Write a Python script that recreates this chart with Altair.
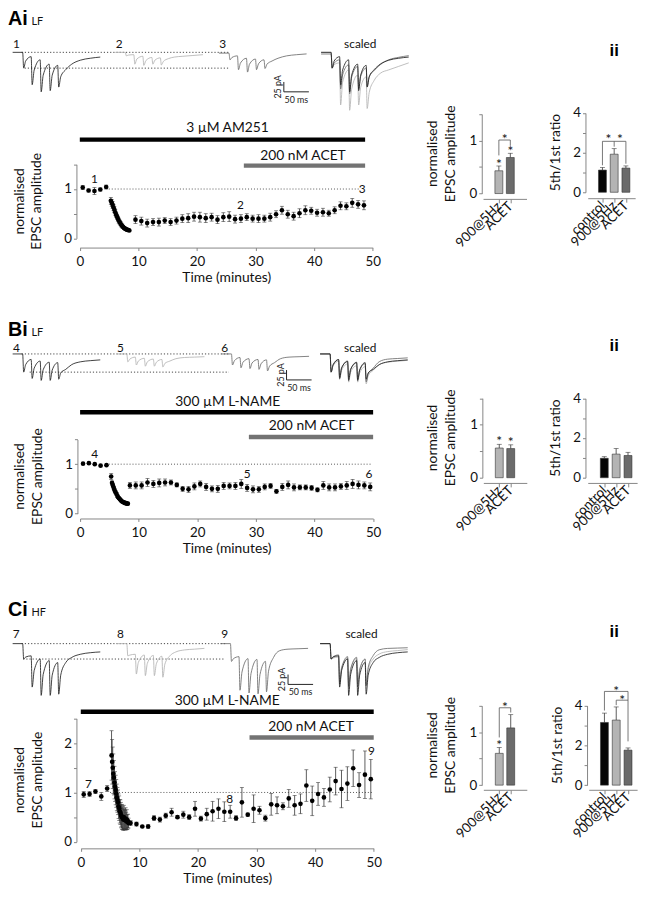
import altair as alt
import pandas as pd

FONT = "Lato"
HEAD_FONT = "Liberation Sans"
W, H = 647, 892

# ---------------- time-course data (minutes, normalised EPSC, s.e.m.) ----------------
A_t = [0.5, 1.5, 2.5, 3.5, 4.5,
       5.3, 5.45, 5.6, 5.75, 5.9, 6.05, 6.2, 6.35, 6.5, 6.65, 6.8, 6.95, 7.1, 7.25,
       7.4, 7.55, 7.7, 7.85, 8.0, 8.15, 8.3, 8.45,
       9.5, 10.5, 11.5, 12.5, 13.5, 14.5, 15.5, 16.5, 17.5, 18.5, 19.5, 20.5, 21.5,
       22.5, 23.5, 24.5, 25.5, 26.5, 27.5, 28.5, 29.5, 30.5, 31.5, 32.5, 33.5, 34.5,
       35.5, 36.5, 37.5, 38.5, 39.5, 40.5, 41.5, 42.5, 43.5, 44.5, 45.5, 46.5, 47.5, 48.5]
A_v = [1.03, 0.97, 0.96, 0.99, 1.04,
       0.76, 0.72, 0.68, 0.63, 0.58, 0.53, 0.48, 0.44, 0.40, 0.36, 0.33, 0.30, 0.27, 0.25,
       0.23, 0.21, 0.20, 0.19, 0.18, 0.17, 0.17, 0.16,
       0.38, 0.35, 0.31, 0.33, 0.33, 0.36, 0.33, 0.36, 0.40, 0.41, 0.44, 0.43, 0.41,
       0.43, 0.38, 0.43, 0.44, 0.39, 0.40, 0.43, 0.40, 0.40, 0.40, 0.43, 0.49, 0.57,
       0.49, 0.45, 0.51, 0.57, 0.56, 0.52, 0.53, 0.51, 0.57, 0.66, 0.65, 0.72, 0.69, 0.67]
A_e = [0.04, 0.03, 0.07, 0.03, 0.04,
       0.07, 0.07, 0.07, 0.06, 0.06, 0.06, 0.05, 0.05, 0.05, 0.05, 0.04, 0.04, 0.04, 0.04,
       0.03, 0.03, 0.03, 0.03, 0.03, 0.03, 0.02, 0.02,
       0.08, 0.08, 0.08, 0.07, 0.08, 0.06, 0.07, 0.07, 0.08, 0.09, 0.09, 0.10, 0.09,
       0.08, 0.08, 0.09, 0.10, 0.08, 0.08, 0.07, 0.07, 0.08, 0.07, 0.08, 0.07, 0.08,
       0.08, 0.08, 0.09, 0.09, 0.07, 0.07, 0.08, 0.06, 0.07, 0.08, 0.07, 0.09, 0.08, 0.09]

B_t = [0.5, 1.5, 2.5, 3.5, 4.5,
       5.3, 5.45, 5.6, 5.75, 5.9, 6.05, 6.2, 6.35, 6.5, 6.65, 6.8, 6.95, 7.1, 7.25,
       7.4, 7.55, 7.7, 7.85, 8.0, 8.15,
       8.5, 9.5, 10.5, 11.5, 12.5, 13.5, 14.5, 15.5, 16.5, 17.5, 18.5, 19.5, 20.5, 21.5,
       22.5, 23.5, 24.5, 25.5, 26.5, 27.5, 28.5, 29.5, 30.5, 31.5, 32.5, 33.5, 34.5,
       35.5, 36.5, 37.5, 38.5, 39.5, 40.5, 41.5, 42.5, 43.5, 44.5, 45.5, 46.5, 47.5, 48.5, 49.5]
B_v = [1.01, 1.02, 1.00, 0.97, 0.98,
       0.75, 0.62, 0.57, 0.52, 0.47, 0.43, 0.40, 0.36, 0.33, 0.31, 0.29, 0.27, 0.25, 0.24,
       0.23, 0.22, 0.21, 0.21, 0.20, 0.20,
       0.57, 0.57, 0.57, 0.63, 0.60, 0.62, 0.63, 0.63, 0.58, 0.50,
       0.49, 0.55, 0.60, 0.54, 0.50, 0.50, 0.56, 0.56, 0.56, 0.60,
       0.52, 0.49, 0.49, 0.54, 0.56, 0.45, 0.54, 0.58, 0.53, 0.53,
       0.53, 0.52, 0.48, 0.57, 0.53, 0.53, 0.55, 0.57, 0.60, 0.58,
       0.57, 0.54]
B_e = [0.01, 0.01, 0.01, 0.01, 0.01,
       0.06, 0.04, 0.04, 0.03, 0.03, 0.03, 0.03, 0.03, 0.02, 0.02, 0.02, 0.02, 0.02, 0.02,
       0.02, 0.02, 0.02, 0.02, 0.02, 0.02,
       0.06, 0.07, 0.07, 0.08, 0.07, 0.08, 0.07, 0.05, 0.04, 0.05,
       0.06, 0.07, 0.06, 0.07, 0.06, 0.07, 0.07, 0.06, 0.07, 0.09,
       0.07, 0.07, 0.06, 0.06, 0.05, 0.04, 0.07, 0.08, 0.07, 0.05,
       0.05, 0.05, 0.04, 0.08, 0.07, 0.07, 0.06, 0.08, 0.09, 0.08,
       0.07, 0.08]

C_t = [0.5, 1.5, 2.5, 3.5, 4.5,
       5.25, 5.35, 5.45, 5.55, 5.65, 5.75, 5.85, 5.95, 6.05, 6.15,
       6.25, 6.35, 6.45, 6.55, 6.65, 6.75, 6.85, 6.95, 7.05, 7.15,
       7.25, 7.35, 7.45, 7.55, 7.65, 7.75, 7.85, 7.95, 8.05, 8.15,
       8.5, 9.5, 10.5, 11.5, 12.5, 13.5, 14.5, 15.5, 16.5, 17.5, 18.5, 19.5, 20.5, 21.5,
       22.5, 23.5, 24.5, 25.5, 26.5, 27.5, 28.5, 29.5, 30.5, 31.5, 32.5, 33.5, 34.5,
       35.5, 36.5, 37.5, 38.5, 39.5, 40.5, 41.5, 42.5, 43.5, 44.5, 45.5, 46.5, 47.5, 48.5, 49.5]
C_v = [0.96, 0.97, 1.02, 0.92, 1.08,
       1.75, 1.62, 1.50, 1.38, 1.30, 1.20, 1.12, 1.05, 0.98, 0.90,
       0.85, 0.80, 0.72, 0.68, 0.62, 0.60, 0.55, 0.52, 0.50, 0.48,
       0.45, 0.50, 0.46, 0.44, 0.47, 0.42, 0.45, 0.40, 0.42, 0.38,
       0.38, 0.36, 0.31, 0.31, 0.48, 0.45, 0.53, 0.60, 0.50, 0.55,
       0.50, 0.67, 0.47, 0.56, 0.62, 0.67, 0.61, 0.61, 0.48, 0.80,
       0.55, 0.67, 0.64, 0.48, 0.76, 0.74, 0.72, 0.88, 0.74, 0.77,
       1.14, 0.83, 0.97, 0.90, 1.06, 1.23, 1.07, 1.18, 1.49, 1.15,
       1.36, 1.27]
C_e = [0.06, 0.05, 0.04, 0.08, 0.06,
       0.50, 0.45, 0.42, 0.40, 0.35, 0.33, 0.30, 0.30, 0.28, 0.27,
       0.25, 0.25, 0.25, 0.25, 0.24, 0.25, 0.25, 0.24, 0.25, 0.23,
       0.22, 0.24, 0.20, 0.20, 0.22, 0.18, 0.20, 0.15, 0.14, 0.10,
       0.05, 0.04, 0.02, 0.04, 0.05, 0.05, 0.05, 0.08, 0.03, 0.07,
       0.05, 0.15, 0.05, 0.12, 0.20, 0.20, 0.20, 0.13, 0.05, 0.30,
       0.03, 0.28, 0.08, 0.06, 0.22, 0.17, 0.07, 0.18, 0.20, 0.20,
       0.32, 0.30, 0.23, 0.18, 0.25, 0.28, 0.38, 0.34, 0.37, 0.25,
       0.48, 0.40]

# numbered sample points on the time courses (label, minute, value)
A_nums = [("1", 2.5, 1.21), ("2", 27.4, 0.68), ("3", 48.2, 1.0)]
B_nums = [("4", 2.5, 1.2), ("5", 28.5, 0.79), ("6", 49.3, 0.8)]
C_nums = [("7", 1.3, 1.17), ("8", 25.4, 0.87), ("9", 49.6, 1.83)]

# drug application periods (label, start min, end min)
A_drugs = [("3 µM AM251", 0, 48.7), ("200 nM ACET", 28, 48.7)]
B_drugs = [("300 µM L-NAME", 0, 50), ("200 nM ACET", 28.8, 50)]
C_drugs = [("300 µM L-NAME", 0, 50), ("200 nM ACET", 28.8, 50)]
A_dot = (4.95, 47.6)
B_dot = (4.9, 49.7)
C_dot = (5.0, 49.7)

# ---------------- bar data ----------------
AMP_CATS = ["900@5Hz", "ACET"]
RAT_CATS = ["control", "900@5Hz", "ACET"]
A_amp, A_amp_e = [0.43, 0.68], [0.09, 0.08]
A_rat, A_rat_e = [1.12, 1.92, 1.22], [0.13, 0.28, 0.11]
B_amp, B_amp_e = [0.56, 0.55], [0.07, 0.07]
B_rat, B_rat_e = [0.98, 1.19, 1.12], [0.08, 0.28, 0.16]
C_amp, C_amp_e = [0.60, 1.08], [0.11, 0.25]
C_rat, C_rat_e = [3.15, 3.27, 1.76], [0.47, 0.66, 0.11]

# significance marks: brackets (from, to, level), legs (at, top, bottom), stars (at, level)
A_amp_sig = ([(0, 1, 1.01)], [(0, 1.01, 0.72), (1, 1.01, 0.9)], [(0, 0.6), (1, 0.83), (0.5, 1.06)])
A_rat_sig = ([(0, 2, 2.57)], [(0, 2.57, 1.36), (1, 2.57, 2.3), (2, 2.57, 1.44)], [(0.5, 2.77), (1.5, 2.77)])
B_amp_sig = ([], [], [(0, 0.72), (1, 0.71)])
B_rat_sig = ([], [], [])
C_amp_sig = ([(0, 1, 1.46)], [(0, 1.46, 0.9), (1, 1.46, 1.37)], [(0, 0.8), (0.5, 1.52)])
C_rat_sig = ([(0, 2, 4.71), (1, 2, 4.27)], [(0, 4.71, 3.75), (1, 4.27, 4.02), (2, 4.71, 2.2)],
             [(1, 4.85), (1.5, 4.4)])

# ---------------- example EPSC traces (ms, pA) ----------------
TRACE_MS = [0, 20, 22, 26, 37, 39, 43, 55, 57, 61, 73, 75, 79, 90, 92, 96, 106, 118, 135, 155, 175]
A_traces = [
    [0, 0, -40, -22, -11, -82, -45, -19, -100, -58, -30, -97, -58, -33, -88, -62, -44, -30, -20, -15, -12],
    [0, 0, -9, -7, -6, -30, -17, -10, -33, -21, -13, -30, -20, -14, -32, -23, -16, -12, -10, -8, -6],
    [-2, -2, -19, -13, -9, -44, -27, -15, -50, -30, -17, -44, -29, -19, -41, -30, -22, -15, -9, -6, -4],
]
B_traces = [
    [0, 0, -46, -27, -14, -62, -36, -18, -67, -40, -21, -67, -41, -22, -64, -48, -39, -27, -20, -17, -15],
    [0, 0, -20, -13, -8, -28, -18, -11, -31, -20, -13, -31, -21, -14, -33, -24, -18, -12, -9, -8, -7],
    [0, 0, -28, -17, -9, -35, -21, -12, -37, -23, -14, -39, -25, -15, -43, -31, -22, -12, -8, -7, -6],
]
C_traces = [
    [0, 0, -39, -34, -31, -110, -68, -39, -131, -78, -43, -131, -80, -48, -128, -80, -48, -35, -27, -23, -21],
    [0, 0, -31, -29, -27, -77, -48, -29, -81, -50, -30, -81, -51, -32, -85, -52, -31, -21, -16, -14, -12],
    [0, 0, -45, -38, -33, -118, -72, -38, -125, -76, -40, -127, -78, -45, -122, -70, -35, -18, -14, -13, -12],
]
TRACE_COLORS = ["#1e1e1e", "#b2b2b2", "#6a6a6a"]
BAR_COLORS = ["#050505", "#b4b4b4", "#6b6b6b"]

# ---------------- layout (pixel geometry of each panel) ----------------
STRIP = {"A": dict(x0=4.7, x1=410.3, yb=103.3, yt=35.3, off=[0, 205, 412, 616],
                   dots=[(18, 432, 0), (24, 432, -40)], sb=(541.6, -75)),
         "B": dict(x0=4.7, x1=410.3, yb=408.7, yt=340.7, off=[0, 208, 417, 614],
                   dots=[(18, 432, 0), (34, 432, -46)], sb=(547, -40.75)),
         "C": dict(x0=4.7, x1=410.3, yb=702, yt=634, off=[0, 208, 415, 614],
                   dots=[(18, 428, 0), (21, 422, -39)], sb=(550, -78.25))}
TC = {"A": dict(x0=72.7, x1=369.3, y0=227.7, y1=152.7, yo=-69.3, xo=237 - H,
                bars=[127.7, 154], labs=[(25.2, 120), (38.1, 148)], tx=(12, 29.3)),
      "B": dict(x0=73, x1=369.7, y0=506.3, y1=431.3, yo=-70.3, xo=511.3 - H,
                bars=[403.7, 428.7], labs=[(25.2, 397), (39.5, 422)], tx=(12.7, 30)),
      "C": dict(x0=73.7, x1=370.3, y0=838.7, y1=713.7, yo=-69.3, xo=845.3 - H,
                bars=[707, 733], labs=[(25.0, 700), (39.3, 726)], tx=(12.7, 30))}
AMPG = {"A": dict(x0=481, x1=525, d0=-0.95, d1=1.983, y0=182.3, y1=101.8, yo=-479.7, xo=187.7 - H,
                  tx=(430, 448.7)),
        "B": dict(x0=481.3, x1=525.3, d0=-0.96, d1=1.973, y0=470, y1=389.5, yo=-480.3, xo=475.3 - H,
                  tx=(430.3, 448.5)),
        "C": dict(x0=481.3, x1=525.3, d0=-0.96, d1=1.973, y0=781.3, y1=700.8, yo=-479.7, xo=786 - H,
                  tx=(430.3, 448.5))}
RATG = {"A": dict(x0=587, x1=635, d0=-0.833, d1=2.367, y0=181, y1=100.7, yo=-584.7, xo=187 - H, tx=(555.3,)),
        "B": dict(x0=587, x1=637, d0=-0.98, d1=2.353, y0=470, y1=389.7, yo=-584.7, xo=475.3 - H, tx=(555.3,)),
        "C": dict(x0=588, x1=637, d0=-0.913, d1=2.353, y0=781.3, y1=700.7, yo=-586.3, xo=786 - H,
                  tx=(556.5,))}

AX = dict(grid=False, labelFlush=False, labelOverlap=False, domainColor="#858585", tickColor="#858585",
          labelColor="#111", titleColor="#111", labelFont=FONT, titleFont=FONT,
          titleFontSize=14, titleFontWeight="normal")
INT_EXPR = "datum.value % 1 === 0 ? '' + datum.value : ''"
EVEN_EXPR = "datum.value % 2 === 0 ? '' + datum.value : ''"


def ytitle(lines, xs, yc):
    """Rotated multi-line y-axis title, one text mark per line."""
    out = []
    for line, x in zip(lines, xs):
        out.append(alt.Chart(pd.DataFrame({"txt": [line]})).mark_text(
            font=FONT, fontSize=14, angle=270, align="center", baseline="middle", color="#111").encode(
            x=alt.value(x), y=alt.value(yc), text="txt:N"))
    return out


def strip_panel(traces, g):
    xs = alt.Scale(domain=[0, 800], range=[g["x0"], g["x1"]], nice=False, zero=False)
    ys = alt.Scale(domain=[-160, 10], range=[g["yb"], g["yt"]], nice=False, zero=False)

    def X(f):
        return alt.X(f, scale=xs, axis=None)

    def Y(f):
        return alt.Y(f, scale=ys, axis=None)

    rows = []
    for k, tr in enumerate(traces):
        f = traces[0][2] / tr[2]
        for t, v in zip(TRACE_MS, tr):
            rows.append(dict(id="r%d" % k, grp=k, x=g["off"][k] + t, y=v))
            rows.append(dict(id="s%d" % k, grp=k, x=g["off"][3] + t, y=v * f))
    df = pd.DataFrame(rows)
    layers = []
    dd = pd.DataFrame(g["dots"], columns=["a", "b", "y"])
    layers.append(alt.Chart(dd).mark_rule(color="#444", strokeWidth=1, strokeDash=[1.2, 2]).encode(
        x=X("a:Q"), x2="b:Q", y=Y("y:Q")))
    for k in [1, 2, 0]:
        layers.append(alt.Chart(df[df.grp == k]).mark_line(strokeWidth=0.85, color=TRACE_COLORS[k],
                                                           interpolate="monotone").encode(
            x=X("x:Q"), y=Y("y:Q"), detail="id:N"))
    sx, sy = g["sb"]
    sv = pd.DataFrame({"x": [sx], "y1": [sy], "y2": [sy - 25], "x2": [sx + 50], "xm": [sx + 25],
                       "ym": [sy - 12.5]})
    layers.append(alt.Chart(sv).mark_rule(color="#222", strokeWidth=1).encode(
        x=X("x:Q"), y=Y("y1:Q"), y2="y2:Q"))
    layers.append(alt.Chart(sv).mark_rule(color="#222", strokeWidth=1).encode(
        x=X("x:Q"), x2="x2:Q", y=Y("y2:Q")))
    layers.append(alt.Chart(sv).mark_text(font=FONT, fontSize=9, angle=270, baseline="middle",
                                          align="center", dy=-6, color="#222").encode(
        x=X("x:Q"), y=Y("ym:Q"), text=alt.value("25 pA")))
    layers.append(alt.Chart(sv).mark_text(font=FONT, fontSize=9, baseline="middle", align="center",
                                          dy=8, color="#222").encode(
        x=X("xm:Q"), y=Y("y2:Q"), text=alt.value("50 ms")))
    return [alt.layer(*layers)]


def tc_panel(t, v, e, g, ymax, yvals, drugs, dot, nums):
    xs = alt.Scale(domain=[0, 50], range=[g["x0"], g["x1"]], nice=False, zero=False)
    ys = alt.Scale(domain=[0, ymax], range=[g["y0"], g["y1"]], nice=False, zero=False)
    xaxis = alt.Axis(orient="bottom", offset=g["xo"], values=[0, 10, 20, 30, 40, 50], title="Time (minutes)",
                     tickSize=3, labelPadding=4, titlePadding=3, labelFontSize=13.5, **AX)
    yaxis = alt.Axis(orient="left", offset=g["yo"], values=yvals, labelExpr=INT_EXPR, title=None,
                     tickSize=3, labelPadding=2, labelFontSize=13.5, **AX)

    def X(f):
        return alt.X(f, scale=xs, axis=xaxis)

    def Y(f):
        return alt.Y(f, scale=ys, axis=yaxis)

    d = pd.DataFrame({"t": t, "v": v, "e": e})
    d["lo"] = d["v"] - d["e"]
    d["hi"] = d["v"] + d["e"]
    layers = []
    for (name, s, en), yb, (lt, ly), col in zip(drugs, g["bars"], g["labs"], ["#000", "#737373"]):
        dd = pd.DataFrame({"s": [s], "e": [en], "lt": [lt], "txt": [name]})
        layers.append(alt.Chart(dd).mark_rule(color=col, strokeWidth=4.5).encode(
            x=X("s:Q"), x2="e:Q", y=alt.value(yb)))
        layers.append(alt.Chart(dd).mark_text(font=FONT, fontSize=14, color="#111", align="center",
                                              baseline="alphabetic").encode(
            x=X("lt:Q"), y=alt.value(ly), text="txt:N"))
    dotdf = pd.DataFrame({"a": [dot[0]], "b": [dot[1]], "y": [1.0]})
    layers.append(alt.Chart(dotdf).mark_rule(color="#555", strokeWidth=1, strokeDash=[1, 2]).encode(
        x=X("a:Q"), x2="b:Q", y=Y("y:Q")))
    layers.append(alt.Chart(d).mark_rule(color="#333", strokeWidth=0.8).encode(
        x=X("t:Q"), y=Y("lo:Q"), y2="hi:Q"))
    for f in ["lo", "hi"]:
        layers.append(alt.Chart(d).mark_tick(orient="horizontal", size=4, thickness=0.8, color="#333").encode(
            x=X("t:Q"), y=Y(f + ":Q")))
    layers.append(alt.Chart(d).mark_circle(size=22, color="#000", opacity=1).encode(
        x=X("t:Q"), y=Y("v:Q")))
    nd = pd.DataFrame(nums, columns=["txt", "t", "v"])
    layers.append(alt.Chart(nd).mark_text(font=FONT, fontSize=12, color="#111", baseline="middle",
                                          align="center").encode(
        x=X("t:Q"), y=Y("v:Q"), text="txt:N"))
    yc = (g["y0"] + g["y1"]) / 2
    return [alt.layer(*layers)] + ytitle(["normalised", "EPSC amplitude"], g["tx"], yc)


def bar_panel(names, vals, errs, cols, g, ymax, yvals, yexpr, ylines, sig):
    n = len(names)
    xs = alt.Scale(domain=[g["d0"], g["d1"]], range=[g["x0"], g["x1"]], nice=False, zero=False)
    ys = alt.Scale(domain=[0, ymax], range=[g["y0"], g["y1"]], nice=False, zero=False)
    lab = "[" + ",".join("'%s'" % s for s in names) + "][datum.value]"
    xaxis = alt.Axis(orient="bottom", offset=g["xo"], values=list(range(n)), labelExpr=lab, labelAngle=315,
                     labelAlign="right", labelBaseline="middle", tickSize=4, labelPadding=1, title=None,
                     labelFontSize=13.5, **AX)
    yaxis = alt.Axis(orient="left", offset=g["yo"], values=yvals, labelExpr=yexpr, title=None,
                     tickSize=3, labelPadding=2, labelFontSize=13.5, **AX)

    def X(f):
        return alt.X(f, scale=xs, axis=xaxis)

    def Y(f):
        return alt.Y(f, scale=ys, axis=yaxis)

    d = pd.DataFrame({"i": list(range(n)), "v": vals, "e": errs, "c": cols})
    d["hi"] = d["v"] + d["e"]
    layers = []
    layers.append(alt.Chart(d).mark_rule(color="#333", strokeWidth=0.8).encode(
        x=X("i:Q"), y=Y("v:Q"), y2="hi:Q"))
    layers.append(alt.Chart(d).mark_tick(orient="horizontal", size=5, thickness=0.8, color="#333").encode(
        x=X("i:Q"), y=Y("hi:Q")))
    layers.append(alt.Chart(d).mark_bar(size=8, orient="vertical", stroke="#333", strokeWidth=0.6).encode(
        x=X("i:Q"), y=Y("v:Q"), color=alt.Color("c:N", scale=None)))
    hbr, legs, stars = sig
    if hbr:
        hd = pd.DataFrame(hbr, columns=["a", "b", "y"])
        layers.append(alt.Chart(hd).mark_rule(color="#555", strokeWidth=0.8).encode(
            x=X("a:Q"), x2="b:Q", y=Y("y:Q")))
    if legs:
        ld = pd.DataFrame(legs, columns=["x", "y1", "y2"])
        layers.append(alt.Chart(ld).mark_rule(color="#555", strokeWidth=0.8).encode(
            x=X("x:Q"), y=Y("y1:Q"), y2="y2:Q"))
    if stars:
        sd = pd.DataFrame(stars, columns=["x", "y"])
        layers.append(alt.Chart(sd).mark_text(font=FONT, fontSize=14, color="#111", baseline="middle",
                                              align="center", dy=3).encode(
            x=X("x:Q"), y=Y("y:Q"), text=alt.value("*")))
    yc = (g["y0"] + g["y1"]) / 2
    return [alt.layer(*layers)] + ytitle(ylines, g["tx"], yc)


panels = []
for key, tr, (t, v, e), ymax, yv, drugs, dot, nums, amp, rat, asig, rsig in [
    ("A", A_traces, (A_t, A_v, A_e), 1.5, [0, 0.5, 1, 1.5], A_drugs, A_dot, A_nums,
     (A_amp, A_amp_e), (A_rat, A_rat_e), A_amp_sig, A_rat_sig),
    ("B", B_traces, (B_t, B_v, B_e), 1.5, [0, 0.5, 1, 1.5], B_drugs, B_dot, B_nums,
     (B_amp, B_amp_e), (B_rat, B_rat_e), B_amp_sig, B_rat_sig),
    ("C", C_traces, (C_t, C_v, C_e), 2.5, [0, 0.5, 1, 1.5, 2, 2.5], C_drugs, C_dot, C_nums,
     (C_amp, C_amp_e), (C_rat, C_rat_e), C_amp_sig, C_rat_sig),
]:
    panels += strip_panel(tr, STRIP[key])
    panels += tc_panel(t, v, e, TC[key], ymax, yv, drugs, dot, nums)
    panels += bar_panel(AMP_CATS, amp[0], amp[1], BAR_COLORS[1:], AMPG[key], 1.5, [0, 0.5, 1, 1.5],
                        INT_EXPR, ["normalised", "EPSC amplitude"], asig)
    panels += bar_panel(RAT_CATS, rat[0], rat[1], BAR_COLORS, RATG[key], 4, [0, 1, 2, 3, 4],
                        EVEN_EXPR, ["5th/1st ratio"], rsig)

# panel letters and trace labels
heads = pd.DataFrame({
    "txt": ["Ai", "Bi", "Ci", "ii", "ii", "ii"],
    "px": [0, 0, 0, 609, 609, 609],
    "py": [11.5, 326.5, 610.3, 43.5, 341.5, 631.5],
    "fs": [20, 20, 20, 17, 17, 17],
})
small = pd.DataFrame({
    "txt": ["LF", "LF", "HF", "1", "2", "3", "4", "5", "6", "7", "8", "9"],
    "px": [23.7, 23.7, 23.7, 5, 109, 214, 5, 110.3, 216, 4.7, 110.3, 216],
    "py": [11.5, 327, 610.3, 34.7, 34.7, 34.7, 342.3, 342.3, 342.3, 632, 632, 632],
    "fs": [11, 11, 11, 12, 12, 12, 12, 12, 12, 12, 12, 12],
})
scaled = pd.DataFrame({"txt": ["scaled", "scaled", "scaled"], "px": [356.7, 356.7, 358],
                       "py": [34.7, 342.3, 632]})

panels.append(alt.Chart(heads).mark_text(font=HEAD_FONT, fontWeight="bold", align="left",
                                         baseline="alphabetic", color="#000").encode(
    x=alt.X("px:Q", scale=None, axis=None), y=alt.Y("py:Q", scale=None, axis=None), text="txt:N",
    size=alt.Size("fs:Q", scale=None)))
panels.append(alt.Chart(small).mark_text(font=FONT, align="left", baseline="alphabetic", color="#111").encode(
    x=alt.X("px:Q", scale=None, axis=None), y=alt.Y("py:Q", scale=None, axis=None), text="txt:N",
    size=alt.Size("fs:Q", scale=None)))
panels.append(alt.Chart(scaled).mark_text(font=FONT, fontSize=12, align="center", baseline="alphabetic",
                                          color="#111").encode(
    x=alt.X("px:Q", scale=None, axis=None), y=alt.Y("py:Q", scale=None, axis=None), text="txt:N"))

chart = alt.layer(*panels).resolve_scale(x="independent", y="independent").properties(
    width=W, height=H, padding=0, autosize=alt.AutoSizeParams(type="none")
).configure_view(strokeWidth=0)

chart.save("out.html", embed_options={"renderer": "svg", "actions": False})
